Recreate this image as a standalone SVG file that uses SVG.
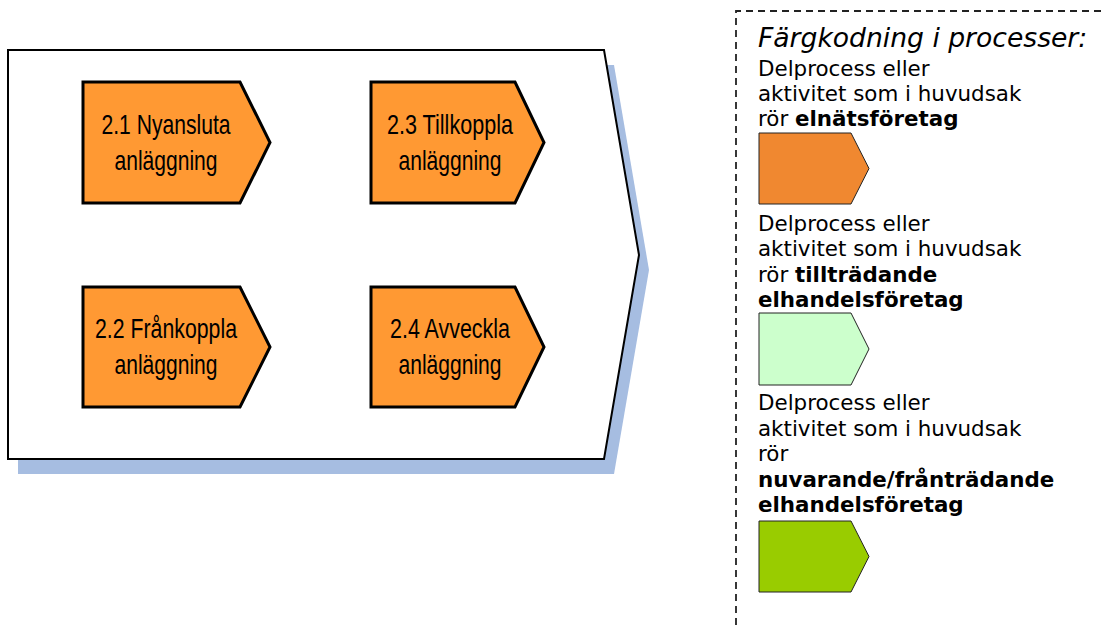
<svg xmlns="http://www.w3.org/2000/svg" width="1104" height="625" viewBox="0 0 1104 625">
<style>
.proc{fill:#FF9933;stroke:#000;stroke-width:3;stroke-linejoin:miter}
.pt{font-family:"Liberation Sans Narrow","Liberation Sans",Arial,sans-serif;font-size:28px;fill:#000;text-anchor:middle}
.lg{font-family:"DejaVu Sans",Verdana,sans-serif;font-size:21.4px;fill:#000}
.b{font-weight:bold}
.sw{stroke:#222;stroke-width:1}
</style>
<rect width="1104" height="625" fill="#fff"/>
<g id="main">
<polygon points="18,65 614,65 649,270 614,474 18,474" fill="#A6BDE1"/>
<polygon points="8,50 604,50 639,255 604,459 8,459" fill="#fff" stroke="#000" stroke-width="2"/>
</g>
<g id="n21">
<polygon class="proc" points="83,82 240,82 270,142.5 240,203 83,203"/>
<text class="pt" x="166" y="134" textLength="129" lengthAdjust="spacingAndGlyphs">2.1 Nyansluta</text>
<text class="pt" x="166" y="170" textLength="103" lengthAdjust="spacingAndGlyphs">anläggning</text>
</g>
<g id="n23">
<polygon class="proc" points="371,82 515,82 544,142.5 515,203 371,203"/>
<text class="pt" x="450" y="134" textLength="126" lengthAdjust="spacingAndGlyphs">2.3 Tillkoppla</text>
<text class="pt" x="450" y="170" textLength="103" lengthAdjust="spacingAndGlyphs">anläggning</text>
</g>
<g id="n22">
<polygon class="proc" points="83,287 240,287 270,347 240,407 83,407"/>
<text class="pt" x="166" y="338" textLength="142" lengthAdjust="spacingAndGlyphs">2.2 Frånkoppla</text>
<text class="pt" x="166" y="374" textLength="103" lengthAdjust="spacingAndGlyphs">anläggning</text>
</g>
<g id="n24">
<polygon class="proc" points="371,287 515,287 544,347 515,407 371,407"/>
<text class="pt" x="450" y="338" textLength="120" lengthAdjust="spacingAndGlyphs">2.4 Avveckla</text>
<text class="pt" x="450" y="374" textLength="103" lengthAdjust="spacingAndGlyphs">anläggning</text>
</g>
<g id="connectors"></g>
<g id="legend">
<path d="M736,625 V11 H1104" fill="none" stroke="#222" stroke-width="1.8" stroke-dasharray="7,5"/>
<text x="758" y="47" font-family="DejaVu Sans,Verdana,sans-serif" font-size="26.6" font-style="italic" fill="#000">Färgkodning i processer:</text>
<text class="lg" x="758" y="76">Delprocess eller</text>
<text class="lg" x="758" y="101">aktivitet som i huvudsak</text>
<text class="lg" x="758" y="126">rör <tspan class="b">elnätsföretag</tspan></text>
<polygon class="sw" points="759,133 851,133 869,168.5 851,204 759,204" fill="#F08830"/>
<text class="lg" x="758" y="230.5">Delprocess eller</text>
<text class="lg" x="758" y="256">aktivitet som i huvudsak</text>
<text class="lg" x="758" y="281.5">rör <tspan class="b">tillträdande</tspan></text>
<text class="lg b" x="758" y="307">elhandelsföretag</text>
<polygon class="sw" points="759,313 851,313 869,349 851,385 759,385" fill="#CCFFCC"/>
<text class="lg" x="758" y="410">Delprocess eller</text>
<text class="lg" x="758" y="435.5">aktivitet som i huvudsak</text>
<text class="lg" x="758" y="461">rör</text>
<text class="lg b" x="758" y="486.5">nuvarande/frånträdande</text>
<text class="lg b" x="758" y="512">elhandelsföretag</text>
<polygon class="sw" points="759,521 851,521 869,556.5 851,592 759,592" fill="#99CC00"/>
</g>
</svg>
